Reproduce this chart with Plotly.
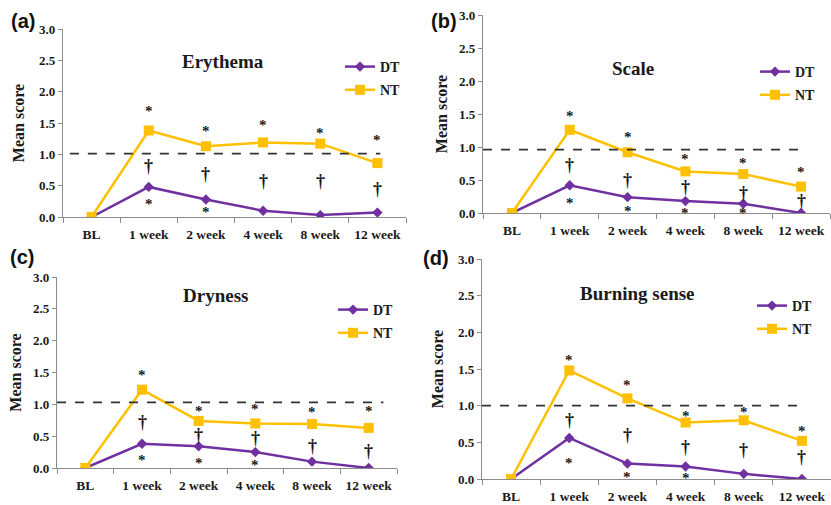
import plotly.graph_objects as go

categories = ["BL", "1 week", "2 week", "4 week", "8 week", "12 week"]

panel_labels = ["(a)", "(b)", "(c)", "(d)"]
panel_titles = ["Erythema", "Scale", "Dryness", "Burning sense"]

a_DT = [0.0, 0.48, 0.28, 0.10, 0.03, 0.07]
a_NT = [0.0, 1.38, 1.13, 1.19, 1.17, 0.86]
b_DT = [0.0, 0.42, 0.24, 0.18, 0.14, 0.00]
b_NT = [0.0, 1.26, 0.92, 0.63, 0.59, 0.40]
c_DT = [0.0, 0.38, 0.34, 0.25, 0.10, 0.00]
c_NT = [0.0, 1.23, 0.74, 0.70, 0.69, 0.63]
d_DT = [0.0, 0.56, 0.21, 0.17, 0.07, 0.00]
d_NT = [0.0, 1.48, 1.10, 0.77, 0.80, 0.52]

thresholds = [1.01, 0.96, 1.03, 1.00]

# significance marker heights (None = no marker)
a_star_top = [None, 1.74, 1.42, 1.51, 1.39, 1.27]
a_dagger = [None, 0.81, 0.69, 0.57, 0.57, 0.45]
a_star_low = [None, 0.26, 0.13, None, None, None]
b_star_top = [None, 1.52, 1.19, 0.87, 0.81, 0.67]
b_dagger = [None, 0.73, 0.50, 0.39, 0.31, 0.18]
b_star_low = [None, 0.19, 0.08, 0.05, 0.05, None]
c_star_top = [None, 1.51, 0.95, 0.97, 0.93, 0.94]
c_dagger = [None, 0.73, 0.52, 0.47, 0.34, 0.26]
c_star_low = [None, 0.17, 0.13, 0.09, None, None]
d_star_top = [None, 1.67, 1.32, 0.90, 0.95, 0.70]
d_dagger = [None, 0.81, 0.60, 0.44, 0.40, 0.30]
d_star_low = [None, 0.26, 0.07, 0.06, None, None]

DT_COLOR = "#7030A0"
NT_COLOR = "#FFC000"
SERIF = "Times New Roman, Liberation Serif, serif"

W, H = 831, 505
# panel boxes in pixels: (left, right, top, bottom)
boxes = [(63, 406, 29, 217), (483, 830, 15, 213), (57, 397, 277, 468), (482, 831, 259, 479)]
dash_x = [(-0.38, 5.05), (-0.5, 5.0), (-0.5, 5.26), (-0.5, 4.97)]
label_pos = [(23, 21), (444, 21), (22, 257), (436, 258)]
title_pos = [(223, 61), (633, 68), (215, 295), (637, 293)]
legend_pos = [(340, 51), (755, 56), (333, 294), (752, 290)]
title_standoff = [10, 7, 7, 10]

DT_all = [a_DT, b_DT, c_DT, d_DT]
NT_all = [a_NT, b_NT, c_NT, d_NT]
stars_top = [a_star_top, b_star_top, c_star_top, d_star_top]
daggers = [a_dagger, b_dagger, c_dagger, d_dagger]
stars_low = [a_star_low, b_star_low, c_star_low, d_star_low]

fig = go.Figure()
annotations = []
shapes = []
layout = {}

for i in range(4):
    n = i + 1
    xa = "x" if n == 1 else f"x{n}"
    ya = "y" if n == 1 else f"y{n}"
    lg = "legend" if n == 1 else f"legend{n}"
    fig.add_trace(go.Scatter(
        x=categories, y=DT_all[i], name="DT", mode="lines+markers",
        line=dict(color=DT_COLOR, width=2.5),
        marker=dict(symbol="diamond", size=8, color=DT_COLOR),
        xaxis=xa, yaxis=ya, legend=lg, legendgroup=f"dt{n}"))
    fig.add_trace(go.Scatter(
        x=categories, y=NT_all[i], name="NT", mode="lines+markers",
        line=dict(color=NT_COLOR, width=2.5),
        marker=dict(symbol="square", size=10, color=NT_COLOR),
        xaxis=xa, yaxis=ya, legend=lg, legendgroup=f"nt{n}"))

    l, r, t, b = boxes[i]
    xkey = "xaxis" if n == 1 else f"xaxis{n}"
    ykey = "yaxis" if n == 1 else f"yaxis{n}"
    layout[xkey] = dict(
        domain=[l / W, r / W], anchor=ya, type="category",
        categoryorder="array", categoryarray=categories,
        range=[-0.5, 5.5], showgrid=False, zeroline=False,
        showline=True, linecolor="#8c8c8c", linewidth=1.2,
        ticks="outside", ticklen=5, tickcolor="#8c8c8c", tickson="boundaries",
        tickangle=0, ticklabelstandoff=5,
        tickfont=dict(family=SERIF, size=13.5, color="#1a1a1a", weight="bold"))
    layout[ykey] = dict(
        domain=[1 - b / H, 1 - t / H], anchor=xa, range=[0, 3],
        dtick=0.5, tickformat=".1f", showgrid=False, zeroline=False,
        showline=True, linecolor="#8c8c8c", linewidth=1.2,
        ticks="outside", ticklen=4, tickcolor="#8c8c8c",
        tickfont=dict(family=SERIF, size=13, color="#1a1a1a", weight="bold"),
        title=dict(text="Mean score", standoff=title_standoff[i],
                   font=dict(family=SERIF, size=16, color="#1a1a1a", weight="bold")))
    lx, ly = legend_pos[i]
    layout[lg] = dict(
        x=lx / W, y=1 - ly / H, xanchor="left", yanchor="top",
        bgcolor="rgba(0,0,0,0)", tracegroupgap=2,
        font=dict(family=SERIF, size=14, color="#1a1a1a", weight="bold"))

    shapes.append(dict(type="line", xref=xa, yref=ya,
                       x0=dash_x[i][0], x1=dash_x[i][1],
                       y0=thresholds[i], y1=thresholds[i],
                       line=dict(color="#333333", width=1.8, dash="dash")))

    px, py = label_pos[i]
    annotations.append(dict(text=panel_labels[i], xref="paper", yref="paper",
                            x=px / W, y=1 - py / H, xanchor="center", yanchor="middle",
                            showarrow=False,
                            font=dict(family="Liberation Sans, Arial, sans-serif", size=20,
                                      color="#111", weight="bold")))
    tx, ty = title_pos[i]
    annotations.append(dict(text=panel_titles[i], xref="paper", yref="paper",
                            x=tx / W, y=1 - ty / H, xanchor="center", yanchor="middle",
                            showarrow=False,
                            font=dict(family=SERIF, size=19, color="#1a1a1a", weight="bold")))
    for j, cat in enumerate(categories):
        for vals, sym, size, ys in ((stars_top[i], "*", 15, -3), (daggers[i], "†", 18, 0),
                                    (stars_low[i], "*", 15, -3)):
            v = vals[j]
            if v is None:
                continue
            annotations.append(dict(text=sym, xref=xa, yref=ya, x=cat, y=v,
                                    xanchor="center", yanchor="middle", yshift=ys,
                                    showarrow=False,
                                    font=dict(family=SERIF, size=size, color="#1a1a1a", weight="bold")))

fig.update_layout(
    width=W, height=H, template="none",
    margin=dict(l=0, r=0, t=0, b=0),
    paper_bgcolor="white", plot_bgcolor="white",
    showlegend=True, annotations=annotations, shapes=shapes, **layout)

fig.write_html("out.html", config={"displayModeBar": False},
               post_script="document.body.style.margin='0px';")
